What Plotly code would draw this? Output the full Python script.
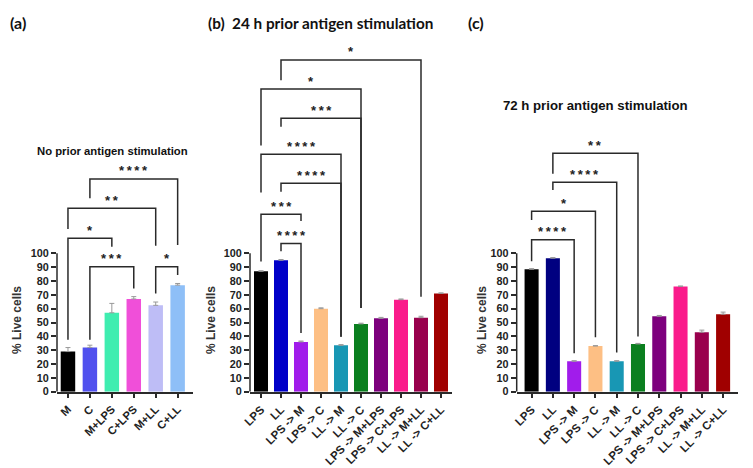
import plotly.graph_objects as go

# ---------------- data ----------------
a_cats = ["M", "C", "M+LPS", "C+LPS", "M+LL", "C+LL"]
a_vals = [29, 32, 57, 67, 62.4, 77]
a_err = [2.9, 1.6, 6.8, 1.7, 2.4, 1.2]
a_colors = ["#000000", "#5151EE", "#3FEDB0", "#F04FD9", "#BEBDF6", "#8EBFF7"]

bc_cats = ["LPS", "LL", "LPS -> M", "LPS -> C", "LL -> M", "LL -> C",
           "LPS -> M+LPS", "LPS -> C+LPS", "LL -> M+LL", "LL -> C+LL"]
b_vals = [87, 95, 36, 60, 33.5, 49, 53, 66.5, 53.5, 71]
b_err = [0.4, 0.5, 0.6, 0.6, 0.5, 0.5, 0.7, 0.5, 1.0, 0.4]
b_colors = ["#000000", "#0000C8", "#A11CEB", "#FDBF84", "#1897B4", "#0B7F1F",
            "#7D007D", "#FA1B8B", "#99004D", "#A00000"]

c_vals = [88.5, 96.5, 22, 33, 22, 34.5, 54.5, 76, 43, 56]
c_err = [0.4, 0.4, 0.4, 0.3, 0.4, 0.4, 0.6, 0.4, 1.5, 1.5]
c_colors = ["#000000", "#000080", "#A11CEB", "#FDBF84", "#1897B4", "#0B7F1F",
            "#7D007D", "#FA1B8B", "#99004D", "#A00000"]

# significance brackets: (left index, right index, top, left leg end, right leg end, label)
a_brackets = [(1, 5, 153.7, 139.8, 106, "****"),
              (0, 4, 132.5, 117.6, 105.5, "**"),
              (0, 2, 110.8, 37.5, 104.8, "*"),
              (1, 3, 90.3, 37.5, 74.5, "***"),
              (4, 5, 90.3, 71, 84.3, "*")]
b_brackets = [(1, 8, 239.7, 225, 68.6, "*"),
              (0, 5, 218.7, 177.8, 60.5, "*"),
              (1, 5, 197.5, 191.5, 60.5, "***"),
              (0, 4, 171.5, 144, 39.7, "****"),
              (1, 4, 150.6, 144.5, 39.7, "****"),
              (0, 2, 128.2, 94, 123.3, "***"),
              (1, 2, 107.0, 101.5, 42.5, "****")]
c_brackets = [(1, 5, 172.3, 157.4, 39.8, "**"),
              (1, 4, 151.3, 145.8, 28.4, "****"),
              (0, 3, 130.4, 124, 39.3, "*"),
              (0, 2, 109.8, 94.2, 27.7, "****")]

y_ticks = list(range(0, 101, 10))

# ---------------- figure ----------------
W, H = 753, 468
FONT = "Arial, Liberation Sans, sans-serif"
LINE = "#2a2a2a"

fig = go.Figure()

panels = [
    dict(cats=a_cats, vals=a_vals, err=a_err, colors=a_colors, br=a_brackets,
         xa="x", ya="y", dom=[57 / W, 193 / W], rng=[-0.5, 5.7], bw=0.66, xfs=11.2),
    dict(cats=bc_cats, vals=b_vals, err=b_err, colors=b_colors, br=b_brackets,
         xa="x2", ya="y2", dom=[250 / W, 452 / W], rng=[-0.55, 9.55], bw=0.7, xfs=11.5),
    dict(cats=bc_cats, vals=c_vals, err=c_err, colors=c_colors, br=c_brackets,
         xa="x3", ya="y3", dom=[516.7 / W, 738 / W], rng=[-0.7, 9.7], bw=0.66, xfs=11.5),
]

ydom = [76.3 / H, (76.3 + 1.384 * 250) / H]

annotations = []
shapes = []
for i, p in enumerate(panels):
    n = len(p["cats"])
    xs = list(range(n))
    fig.add_trace(go.Bar(
        x=xs, y=p["vals"], width=p["bw"],
        marker=dict(color=p["colors"], line=dict(width=0)),
        error_y=dict(type="data", array=p["err"], arrayminus=[0] * n, symmetric=False,
                     color="#999999", thickness=1, width=2.5),
        xaxis=p["xa"], yaxis=p["ya"], showlegend=False, hoverinfo="skip"))
    for (l, r, top, le, re, lab) in p["br"]:
        fig.add_trace(go.Scatter(
            x=[l, l, r, r], y=[le, top, top, re], mode="lines",
            line=dict(color=LINE, width=1.5), xaxis=p["xa"], yaxis=p["ya"],
            showlegend=False, hoverinfo="skip"))
        annotations.append(dict(
            x=(l + r) / 2, y=top, xref=p["xa"], yref=p["ya"],
            text="<b>" + "\u2009".join(lab) + "</b>", xanchor="center",
            showarrow=False, yanchor="middle", yshift=8,
            font=dict(family=FONT, size=13, color="#222")))
    suffix = "" if i == 0 else str(i + 1)
    fig.layout["xaxis" + suffix] = dict(
        domain=p["dom"], range=p["rng"], anchor=p["ya"], automargin=False,
        tickmode="array", tickvals=xs, ticktext=["<b>%s</b>" % c for c in p["cats"]],
        tickangle=-45, ticks="outside", ticklen=5, tickwidth=1.5, tickcolor=LINE,
        showline=True, linecolor=LINE, linewidth=1.5, showgrid=False, zeroline=False,
        tickfont=dict(family=FONT, size=p["xfs"], color="#222"), fixedrange=True)
    fig.layout["yaxis" + suffix] = dict(
        domain=ydom, range=[0, 250], anchor=p["xa"], automargin=False,
        tickmode="array", tickvals=y_ticks, ticktext=["<b>%d</b>" % v for v in y_ticks],
        ticks="outside", ticklen=5, tickwidth=1.5, tickcolor=LINE,
        showline=False, showgrid=False, zeroline=False,
        tickfont=dict(family=FONT, size=10.8, color="#222"), fixedrange=True)
    shapes.append(dict(type="line", xref=p["xa"] + " domain", yref=p["ya"],
                       x0=0, x1=0, y0=0, y1=100, line=dict(color=LINE, width=1.5)))

# y axis titles
for xpx in [17, 211, 482]:
    annotations.append(dict(x=xpx / W, y=1 - 320 / H, xref="paper", yref="paper",
                            xanchor="center", yanchor="middle",
                            text="<b>% Live cells</b>", textangle=-90, showarrow=False,
                            font=dict(family=FONT, size=12, color="#333")))

# panel labels and titles
TFONT = "Lato, Carlito, Open Sans, sans-serif"
def paper_text(xpx, ypx, txt, size, family, xanchor="left"):
    annotations.append(dict(x=xpx / W, y=1 - ypx / H, xref="paper", yref="paper",
                            xanchor=xanchor, yanchor="middle", text=txt, showarrow=False,
                            font=dict(family=family, size=size, color="#111")))

paper_text(8, 22, "<b>(a)</b>", 16, TFONT)
paper_text(206, 23, "<b>(b)  24 h prior antigen stimulation</b>", 15.3, TFONT)
paper_text(466, 22, "<b>(c)</b>", 16, TFONT)
paper_text(112.5, 151, "<b>No prior antigen stimulation</b>", 11.3, FONT, "center")
paper_text(595.5, 106, "<b>72 h prior antigen stimulation</b>", 13.2, FONT, "center")

fig.update_layout(width=W, height=H, margin=dict(l=0, r=0, t=0, b=0, autoexpand=False),
                  paper_bgcolor="white", plot_bgcolor="white",
                  annotations=annotations, shapes=shapes, bargap=0.3)

fig.write_html("out.html", config={"displayModeBar": False},
               post_script="document.body.style.margin='0';document.body.style.padding='0';"
                           "document.documentElement.style.margin='0';")
